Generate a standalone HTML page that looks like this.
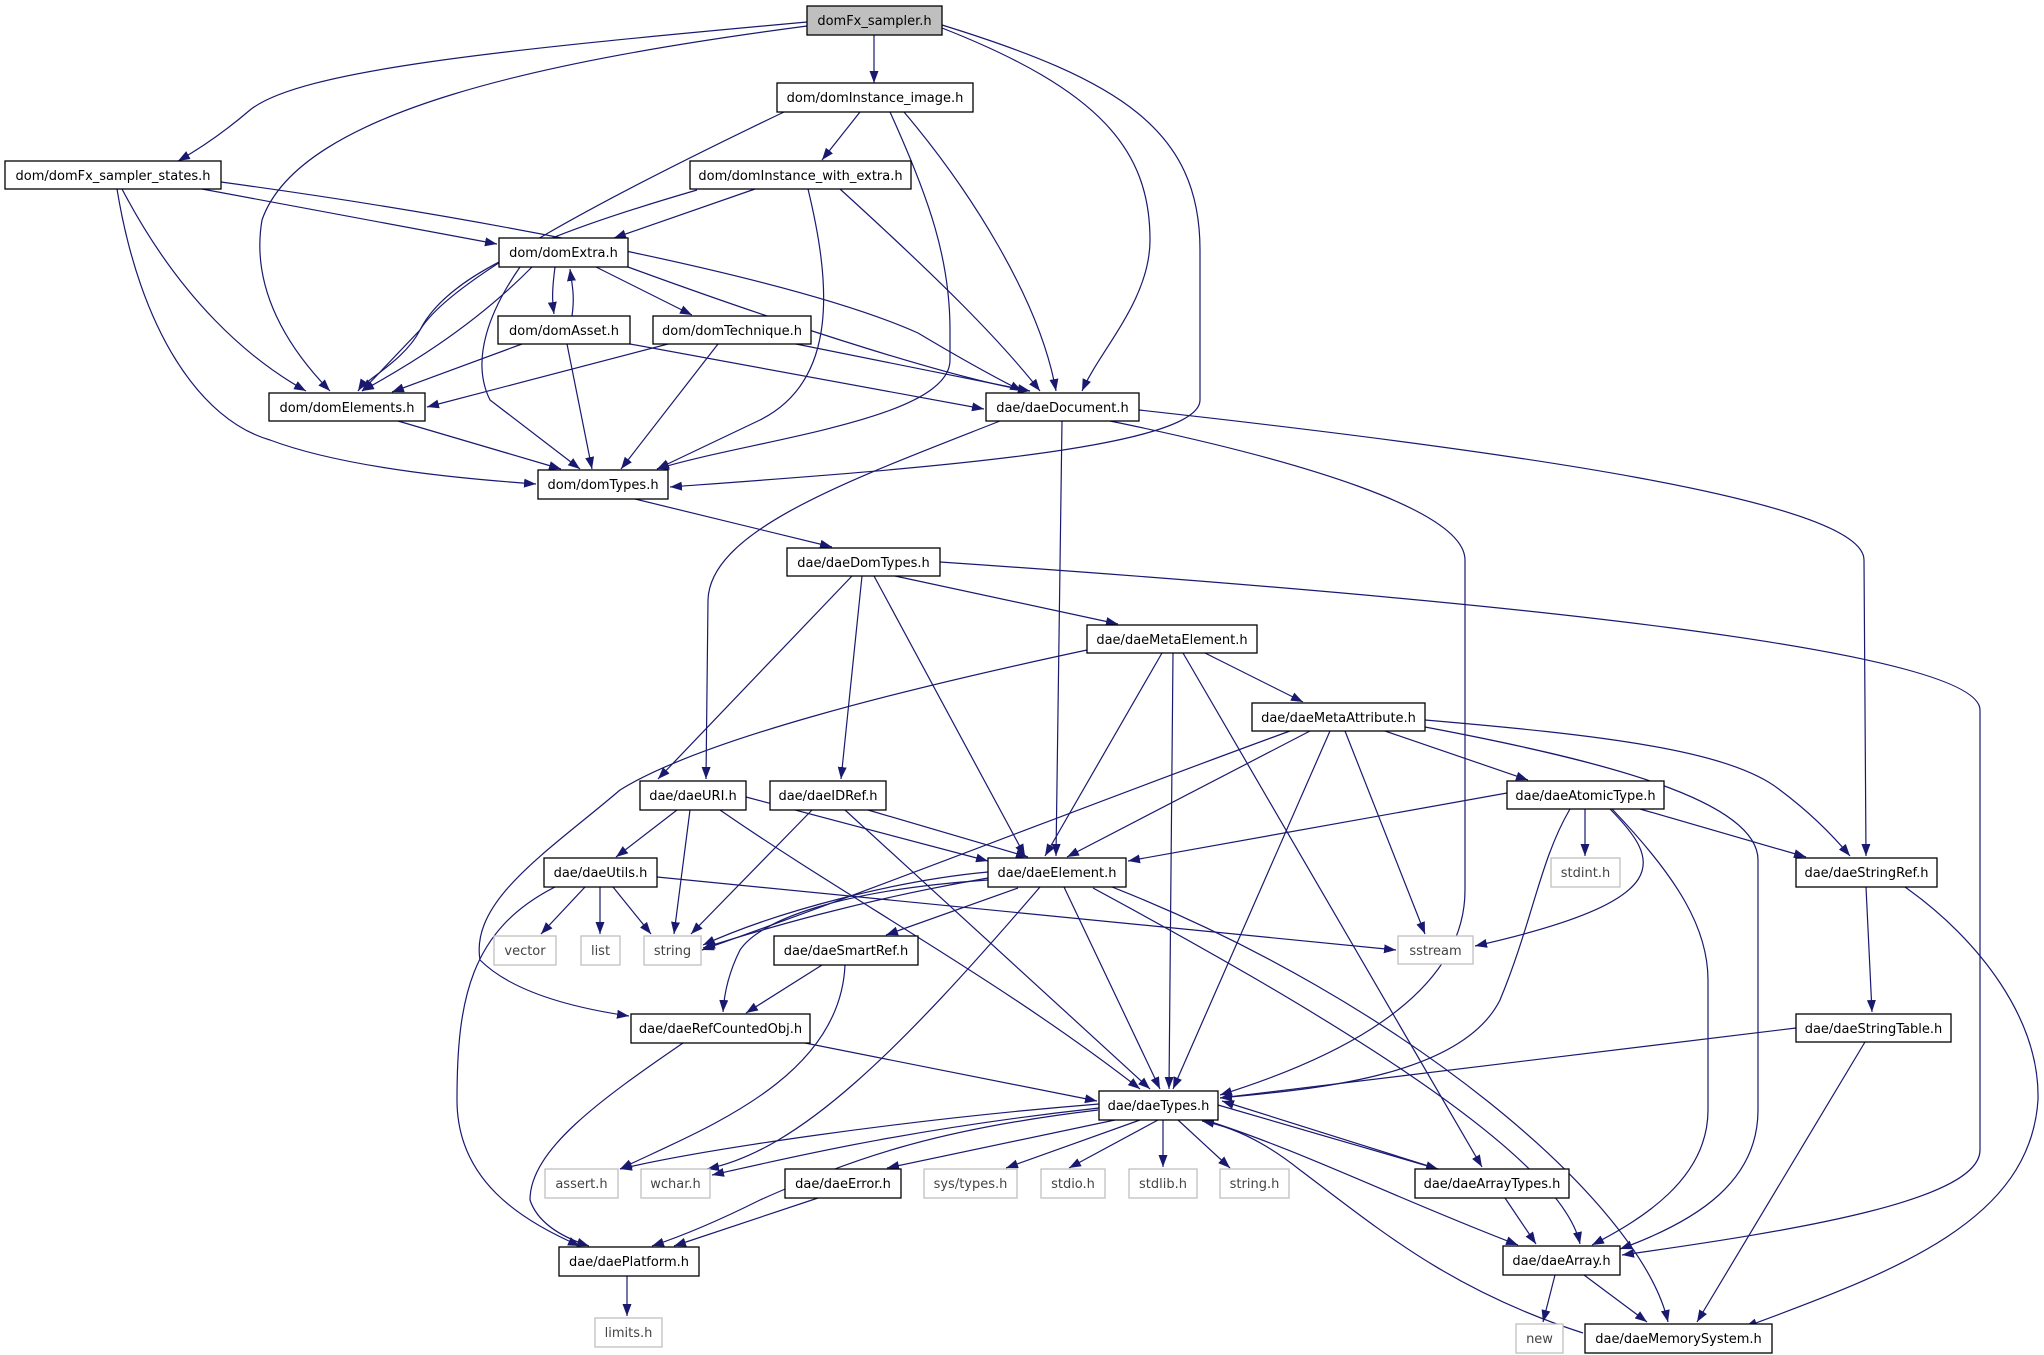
<!DOCTYPE html>
<html><head><meta charset="utf-8"><style>
html,body{margin:0;padding:0;background:#fff;}
svg{display:block;}
text{font-family:"DejaVu Sans","Liberation Sans",sans-serif;font-size:13px;fill:#000;}
.g text{fill:#444;}
</style></head><body>
<svg width="2044" height="1355" viewBox="0 0 2044 1355" xmlns="http://www.w3.org/2000/svg">
<defs>
<marker id="a" markerUnits="userSpaceOnUse" markerWidth="14" markerHeight="10" refX="12" refY="4.5" orient="auto">
<path d="M0,0 L12,4.5 L0,9 z" fill="#191970"/>
</marker>
</defs>
<g fill="none" stroke="#191970" stroke-width="1.2" marker-end="url(#a)">
<path d="M807,22 C500,50 300,70 250,110 Q215,140 178,161"/>
<path d="M807,26 C550,60 300,110 262,220 C250,290 290,350 330,391"/>
<path d="M874,35 L874,83"/>
<path d="M942,28 C1100,90 1150,150 1150,240 C1150,300 1100,350 1082,391"/>
<path d="M942,25 C1120,80 1200,130 1200,250 L1200,400 C1200,450 900,470 670,487"/>
<path d="M784,112 C600,200 450,280 420,330 C405,360 365,380 358,391"/>
<path d="M860,112 L822,160"/>
<path d="M890,112 C930,200 950,260 950,330 L950,360 C950,420 750,440 657,469"/>
<path d="M904,112 C970,190 1040,300 1056,391"/>
<path d="M202,189 L497,244"/>
<path d="M221,182 C500,220 800,280 918,333 Q980,370 1022,391"/>
<path d="M122,189 C180,300 250,360 306,391"/>
<path d="M117,189 C140,330 200,420 270,440 C350,470 480,480 536,484"/>
<path d="M755,189 L614,238"/>
<path d="M697,190 C560,230 450,270 420,330 L362,391"/>
<path d="M808,189 C830,280 840,380 760,420 L657,469"/>
<path d="M840,189 C940,280 1000,340 1040,391"/>
<path d="M555,267 C552,290 552,300 554,314"/>
<path d="M572,316 C575,295 572,285 570,269"/>
<path d="M596,267 L692,315"/>
<path d="M532,267 C470,330 400,370 362,391"/>
<path d="M520,267 C490,310 470,360 490,400 L580,469"/>
<path d="M628,267 C800,330 960,380 1030,391"/>
<path d="M522,344 L392,392"/>
<path d="M567,344 L592,469"/>
<path d="M630,344 L984,409"/>
<path d="M668,344 L427,407"/>
<path d="M718,344 L621,469"/>
<path d="M796,344 L1030,391"/>
<path d="M398,421 L561,469"/>
<path d="M1000,421 C850,480 710,530 708,600 L706,779"/>
<path d="M1062,421 L1056,856"/>
<path d="M1110,421 C1300,460 1465,510 1465,560 L1465,890 C1465,1010 1300,1070 1220,1095"/>
<path d="M1139,410 C1500,450 1864,500 1864,560 L1866,856"/>
<path d="M635,499 L832,547"/>
<path d="M895,576 L1118,624"/>
<path d="M940,562 C1500,600 1980,650 1980,710 L1980,1150 C1980,1200 1800,1230 1622,1255"/>
<path d="M852,576 L658,779"/>
<path d="M862,576 L841,779"/>
<path d="M874,576 L1025,856"/>
<path d="M1087,650 C900,690 700,740 620,790 C550,850 470,900 480,960 Q520,1000 629,1016"/>
<path d="M1162,653 L1045,856"/>
<path d="M1173,653 L1169,1089"/>
<path d="M1183,653 L1482,1167"/>
<path d="M1205,653 L1303,702"/>
<path d="M1310,731 L1067,857"/>
<path d="M1290,731 C1100,800 900,880 702,950"/>
<path d="M1330,731 L1173,1089"/>
<path d="M1345,731 L1425,934"/>
<path d="M1385,731 L1528,780"/>
<path d="M1425,720 C1600,735 1730,750 1780,790 Q1820,820 1850,856"/>
<path d="M1425,727 C1600,760 1758,800 1758,860 L1758,1110 C1758,1180 1700,1220 1620,1249"/>
<path d="M1507,793 L1128,861"/>
<path d="M1585,809 L1585,856"/>
<path d="M1640,809 L1806,857"/>
<path d="M1610,809 C1660,860 1680,900 1475,946"/>
<path d="M1570,809 C1540,860 1533,920 1500,1000 C1460,1080 1300,1090 1220,1098"/>
<path d="M1612,809 C1680,880 1708,930 1708,980 L1708,1110 C1708,1180 1640,1220 1592,1245"/>
<path d="M677,810 L616,857"/>
<path d="M690,810 L674,934"/>
<path d="M746,797 L988,861"/>
<path d="M720,810 C850,900 1000,980 1140,1089"/>
<path d="M812,810 L691,934"/>
<path d="M868,810 L1028,857"/>
<path d="M845,810 L1150,1089"/>
<path d="M585,887 L541,934"/>
<path d="M600,887 L600,934"/>
<path d="M613,887 L651,934"/>
<path d="M657,877 L1396,950"/>
<path d="M555,887 C470,930 457,1000 457,1100 C457,1180 520,1220 580,1246"/>
<path d="M988,872 C900,880 780,910 703,945"/>
<path d="M988,878 C860,900 760,930 703,948"/>
<path d="M988,880 C840,890 760,920 740,950 Q725,980 723,1012"/>
<path d="M1018,888 L886,935"/>
<path d="M1040,887 C900,1050 800,1150 707,1169"/>
<path d="M1064,887 L1160,1089"/>
<path d="M1093,888 C1300,1000 1560,1150 1580,1244"/>
<path d="M1112,887 C1400,1000 1640,1200 1668,1322"/>
<path d="M822,965 L746,1013"/>
<path d="M845,965 C840,1080 700,1130 620,1169"/>
<path d="M805,1043 L1097,1101"/>
<path d="M683,1043 C600,1100 530,1150 530,1200 Q540,1230 589,1246"/>
<path d="M1796,1028 L1220,1098"/>
<path d="M1865,1042 L1697,1322"/>
<path d="M1866,887 L1872,1012"/>
<path d="M1905,887 C1980,940 2040,1020 2038,1100 C2030,1220 1900,1270 1745,1327"/>
<path d="M1099,1104 C900,1120 700,1150 620,1169"/>
<path d="M1099,1108 C900,1130 780,1160 712,1175"/>
<path d="M1115,1120 L887,1168"/>
<path d="M1140,1120 L1006,1168"/>
<path d="M1158,1120 L1069,1168"/>
<path d="M1163,1120 L1163,1167"/>
<path d="M1178,1120 L1230,1168"/>
<path d="M1098,1110 C930,1130 850,1160 760,1200 Q700,1230 652,1246"/>
<path d="M1218,1105 L1438,1169"/>
<path d="M1438,1169 L1222,1101"/>
<path d="M1205,1120 C1300,1150 1400,1200 1518,1245"/>
<path d="M1583,1333 C1450,1290 1380,1230 1300,1170 Q1250,1130 1202,1121"/>
<path d="M1505,1198 L1536,1244"/>
<path d="M818,1198 L674,1246"/>
<path d="M627,1276 L627,1316"/>
<path d="M1555,1275 L1543,1322"/>
<path d="M1584,1275 L1647,1322"/>
</g>
<g stroke="#000" stroke-width="1.3" fill="#fff">
<rect x="807" y="6" width="135" height="29" fill="#bfbfbf"/>
<rect x="777" y="83" width="196" height="29"/>
<rect x="5" y="161" width="216" height="28"/>
<rect x="690" y="161" width="221" height="28"/>
<rect x="499" y="238" width="129" height="29"/>
<rect x="498" y="316" width="132" height="28"/>
<rect x="653" y="316" width="158" height="28"/>
<rect x="269" y="393" width="156" height="28"/>
<rect x="986" y="393" width="153" height="28"/>
<rect x="538" y="470" width="130" height="29"/>
<rect x="787" y="548" width="153" height="28"/>
<rect x="1087" y="625" width="170" height="28"/>
<rect x="1252" y="703" width="173" height="28"/>
<rect x="640" y="781" width="106" height="29"/>
<rect x="770" y="781" width="116" height="29"/>
<rect x="1507" y="781" width="157" height="28"/>
<rect x="544" y="858" width="113" height="29"/>
<rect x="988" y="858" width="138" height="29"/>
<rect x="1796" y="858" width="141" height="29"/>
<rect x="774" y="936" width="144" height="29"/>
<rect x="631" y="1014" width="179" height="29"/>
<rect x="1796" y="1014" width="155" height="28"/>
<rect x="1099" y="1091" width="119" height="29"/>
<rect x="785" y="1169" width="116" height="29"/>
<rect x="1415" y="1169" width="154" height="29"/>
<rect x="559" y="1247" width="140" height="29"/>
<rect x="1503" y="1246" width="117" height="29"/>
<rect x="1585" y="1324" width="187" height="29"/>
</g>
<g stroke="#c0c0c0" stroke-width="1.3" fill="#fff">
<rect x="494" y="936" width="62" height="29"/>
<rect x="581" y="936" width="39" height="29"/>
<rect x="644" y="936" width="57" height="29"/>
<rect x="1551" y="858" width="69" height="29"/>
<rect x="1398" y="936" width="75" height="28"/>
<rect x="545" y="1169" width="73" height="29"/>
<rect x="641" y="1169" width="69" height="29"/>
<rect x="924" y="1169" width="93" height="29"/>
<rect x="1041" y="1169" width="64" height="29"/>
<rect x="1129" y="1169" width="68" height="29"/>
<rect x="1220" y="1169" width="69" height="29"/>
<rect x="595" y="1318" width="67" height="29"/>
<rect x="1516" y="1324" width="47" height="29"/>
</g>
<g text-anchor="middle">
<text x="874.5" y="25">domFx_sampler.h</text>
<text x="875" y="102">dom/domInstance_image.h</text>
<text x="113" y="180">dom/domFx_sampler_states.h</text>
<text x="800.5" y="180">dom/domInstance_with_extra.h</text>
<text x="563.5" y="257">dom/domExtra.h</text>
<text x="564" y="335">dom/domAsset.h</text>
<text x="732" y="335">dom/domTechnique.h</text>
<text x="347" y="412">dom/domElements.h</text>
<text x="1062.5" y="412">dae/daeDocument.h</text>
<text x="603" y="489">dom/domTypes.h</text>
<text x="863.5" y="567">dae/daeDomTypes.h</text>
<text x="1172" y="644">dae/daeMetaElement.h</text>
<text x="1338.5" y="722">dae/daeMetaAttribute.h</text>
<text x="693" y="800">dae/daeURI.h</text>
<text x="828" y="800">dae/daeIDRef.h</text>
<text x="1585.5" y="800">dae/daeAtomicType.h</text>
<text x="600.5" y="877">dae/daeUtils.h</text>
<text x="1057" y="877">dae/daeElement.h</text>
<text x="1866.5" y="877">dae/daeStringRef.h</text>
<text x="846" y="955">dae/daeSmartRef.h</text>
<text x="720.5" y="1033">dae/daeRefCountedObj.h</text>
<text x="1873.5" y="1033">dae/daeStringTable.h</text>
<text x="1158.5" y="1110">dae/daeTypes.h</text>
<text x="843" y="1188">dae/daeError.h</text>
<text x="1492" y="1188">dae/daeArrayTypes.h</text>
<text x="629" y="1266">dae/daePlatform.h</text>
<text x="1561.5" y="1265">dae/daeArray.h</text>
<text x="1678.5" y="1343">dae/daeMemorySystem.h</text>
</g>
<g text-anchor="middle" class="g">
<text x="525" y="955">vector</text>
<text x="600.5" y="955">list</text>
<text x="672.5" y="955">string</text>
<text x="1585.5" y="877">stdint.h</text>
<text x="1435.5" y="955">sstream</text>
<text x="581.5" y="1188">assert.h</text>
<text x="675.5" y="1188">wchar.h</text>
<text x="970.5" y="1188">sys/types.h</text>
<text x="1073" y="1188">stdio.h</text>
<text x="1163" y="1188">stdlib.h</text>
<text x="1254.5" y="1188">string.h</text>
<text x="628.5" y="1337">limits.h</text>
<text x="1539.5" y="1343">new</text>
</g>
</svg>
</body></html>
